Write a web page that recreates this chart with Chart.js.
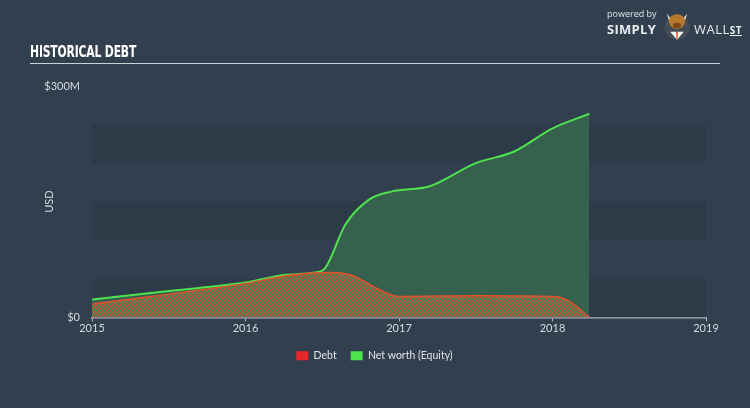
<!DOCTYPE html>
<html>
<head>
<meta charset="utf-8">
<script src="https://cdn.jsdelivr.net/npm/chart.js@4/dist/chart.umd.min.js"></script>
<style>
  html, body { margin: 0; padding: 0; }
  body { width: 750px; height: 408px; background: #323f4e; position: relative; overflow: hidden; font-family: "Open Sans", sans-serif; }
  #wrap { position: absolute; left: 0; top: 0; width: 750px; height: 408px; }
  #title { position: absolute; left: 30px; top: 43px; color: #fff; font-family: "Liberation Sans Narrow", "DejaVu Sans Condensed", sans-serif; font-weight: bold; font-size: 15px; transform: scaleX(0.8); transform-origin: left; letter-spacing: -0.2px; }
  #rule { position: absolute; left: 30px; top: 63px; width: 690px; height: 1px; background: #c9d1da; }
  #logo { position: absolute; left: 607px; top: 7px; color: #e8ecef; }
  #logo .pb { font-size: 9px; position: absolute; left: 0; top: 0; white-space: nowrap; color: #dfe3e6; }
  #logo .s { font-size: 13px; font-weight: bold; position: absolute; left: 0; top: 13px; letter-spacing: 0.3px; }
  #logo .w { font-size: 13px; position: absolute; left: 87px; top: 13px; letter-spacing: 0.5px; white-space: nowrap; }
  #logo .w u { font-size: 10px; font-weight: bold; }
  #bull { position: absolute; left: 55px; top: 2px; width: 30px; height: 32px; }
</style>
</head>
<body>
<div id="wrap"><canvas id="canvas" width="750" height="408"></canvas></div>
<div id="title">HISTORICAL DEBT</div>
<div id="rule"></div>
<div id="logo">
  <span class="pb">powered by</span>
  <span class="s">SIMPLY</span>
  <svg id="bull" viewBox="0 0 26 28">
    <circle cx="13" cy="16" r="11" fill="#444c55"/>
    <path d="M4 4 L8 9 L6 10 Z M22 4 L18 9 L20 10 Z" fill="#e6e0d2"/>
    <ellipse cx="13" cy="11" rx="7" ry="6.5" fill="#b8792e"/>
    <ellipse cx="13" cy="14.5" rx="3.5" ry="2.5" fill="#7a4a1e"/>
    <path d="M7 20 L13 27 L19 20 Z" fill="#f2f2f2"/>
    <path d="M12.3 20 L13.7 20 L13.5 26 L12.5 26 Z" fill="#e0401e"/>
  </svg>
  <span class="w">WALL<u>ST</u></span>
</div>
<script>
// valeurs (millions USD)
let debtDates = [2015.0, 2016.0, 2016.3, 2016.55, 2016.7, 2016.85, 2017.0, 2017.5, 2018.0, 2018.1, 2018.24];
let debtValues = [17, 44, 55, 58, 54, 38, 27, 28, 27, 22, 0];

let equityDates = [2015.0, 2015.5, 2016.0, 2016.25, 2016.45, 2016.52, 2016.65, 2016.8, 2016.95, 2017.2, 2017.5, 2017.75, 2018.0, 2018.24];
let equityValues = [23, 34, 45, 55, 58, 64, 120, 152, 163, 170, 200, 215, 245, 264];

let yearTicks = [2015, 2016, 2017, 2018, 2019];
let yTicks = [0, 300];

function toPoints(xs, ys) {
  return xs.map((x, i) => ({x: x, y: ys[i]}));
}

// motif hachuré pour la dette (rayures rouges / vertes)
function hatchPattern() {
  let c = document.createElement('canvas');
  c.width = 4; c.height = 4;
  let g = c.getContext('2d');
  for (let x = 0; x < 4; x++) {
    for (let y = 0; y < 4; y++) {
      g.fillStyle = (x + y) % 4 < 2 ? '#bb523a' : '#428656';
      g.fillRect(x, y, 1, 1);
    }
  }
  return g.createPattern(c, 'repeat');
}

// bandes horizontales du fond
const bands = {
  id: 'bands',
  beforeDatasetsDraw(chart) {
    let ctx = chart.ctx;
    let y = chart.scales.y;
    let area = chart.chartArea;
    ctx.save();
    ctx.fillStyle = '#2d3a48';
    for (let v = 0; v < 300; v += 100) {
      let top = y.getPixelForValue(v + 50);
      let bot = y.getPixelForValue(v);
      ctx.fillRect(area.left, top, area.right - area.left, bot - top);
    }
    ctx.restore();
  }
};

var ctx = document.getElementById('canvas').getContext('2d');
var chart = new Chart(ctx, {
  type: 'line',
  data: {
    datasets: [{
      label: 'Debt',
      data: toPoints(debtDates, debtValues),
      borderColor: '#e2512b',
      backgroundColor: hatchPattern(),
      borderWidth: 1.5,
      fill: 'origin',
      pointRadius: 0,
      cubicInterpolationMode: 'monotone'
    }, {
      label: 'Net worth (Equity)',
      data: toPoints(equityDates, equityValues),
      borderColor: '#4fe24f',
      backgroundColor: '#36614e',
      borderWidth: 2,
      fill: 'origin',
      pointRadius: 0,
      cubicInterpolationMode: 'monotone'
    }]
  },
  options: {
    responsive: false,
    animation: false,
    layout: { padding: { left: 43, right: 44, top: 86, bottom: 37 } },
    plugins: {
      tooltip: { enabled: false },
      legend: {
        position: 'bottom',
        labels: {
          color: '#e0e4e8',
          font: { family: 'Lato', size: 10.5 },
          boxWidth: 12,
          boxHeight: 9,
          padding: 14,
          generateLabels(chart) {
            let cols = ['#e8262a', '#4fe24f'];
            return chart.data.datasets.map((d, i) => ({
              text: d.label,
              fillStyle: cols[i],
              strokeStyle: cols[i],
              lineWidth: 0,
              fontColor: '#e0e4e8',
              datasetIndex: i
            }));
          }
        }
      }
    },
    scales: {
      x: {
        type: 'linear',
        min: 2015,
        max: 2019,
        afterBuildTicks(scale) { scale.ticks = yearTicks.map(v => ({value: v})); },
        ticks: { color: '#d5dade', font: { family: 'Lato', size: 11 }, padding: 1, callback: v => String(v) },
        grid: { drawOnChartArea: false, drawTicks: true, tickLength: 4, color: '#b4bcc4' },
        border: { color: '#b4bcc4', width: 1.5 }
      },
      y: {
        min: 0,
        max: 300,
        afterBuildTicks(scale) { scale.ticks = yTicks.map(v => ({value: v})); },
        afterFit(scale) { scale.width = 49; },
        ticks: { color: '#d5dade', font: { family: 'Lato', size: 11 }, padding: 4,
          callback: v => v === 0 ? '$0' : '$' + v + 'M' },
        grid: { display: false },
        border: { display: false },
        title: { display: true, text: 'USD', color: '#d5dade', font: { family: 'Lato', size: 11 }, padding: 0 }
      }
    }
  },
  plugins: [bands]
});
</script>
</body>
</html>
